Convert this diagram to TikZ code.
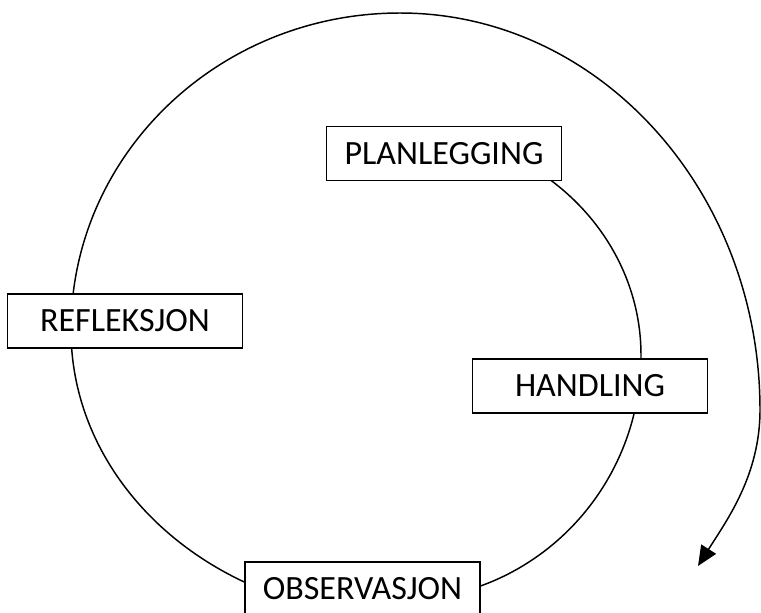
\documentclass[tikz,border=0pt]{standalone}
\usepackage{fontspec}
\setmainfont{Carlito}
\usetikzlibrary{arrows.meta,backgrounds}
\begin{document}
\begin{tikzpicture}[x=0.75pt,y=-0.75pt,
  stage/.style={draw,line width=1.3pt,fill=white,rectangle,inner sep=0pt,
    minimum width=176.25pt,minimum height=40.5pt,
    font=\fontsize{25.5pt}{30pt}\selectfont,text height=16.4pt,text depth=0pt},
  cyc/.style={line width=1.1pt}]
\useasboundingbox (0,0) rectangle (761,612);
% stages
\node[stage] (plan) at (444,153.5) {PLANLEGGING};
\node[stage] (refl) at (125,321) {REFLEKSJON};
\node[stage] (hand) at (590,386) {HANDLING};
\node[stage] (obs)  at (362.5,589) {OBSERVASJON};
% centres of the arcs
\coordinate (ci) at (400,355);
\coordinate (cb) at (400,330);
\coordinate (cr) at (400,410);
\coordinate (tip) at (698,566);
\begin{pgfonlayer}{background}
% inner spiral: planlegging -> handling -> observasjon
\draw[cyc] (ci) ++(290:241 and 224) arc[start angle=290,end angle=360,x radius=241,y radius=224]
  arc[start angle=0,end angle=90,x radius=241,y radius=245];
% outer spiral: observasjon -> refleksjon -> top -> right -> arrow
\draw[cyc] (cb) ++(90:329 and 286) arc[start angle=90,end angle=180,x radius=329,y radius=286]
  arc[start angle=180,end angle=270,x radius=329,y radius=317];
\draw[cyc,-{Triangle[length=15pt,width=13pt]}] (cr) ++(270:360 and 397)
  arc[start angle=270,end angle=360,x radius=360,y radius=397]
  .. controls +(0,65) and +(29,-46) .. (tip);
\end{pgfonlayer}
\end{tikzpicture}
\end{document}
